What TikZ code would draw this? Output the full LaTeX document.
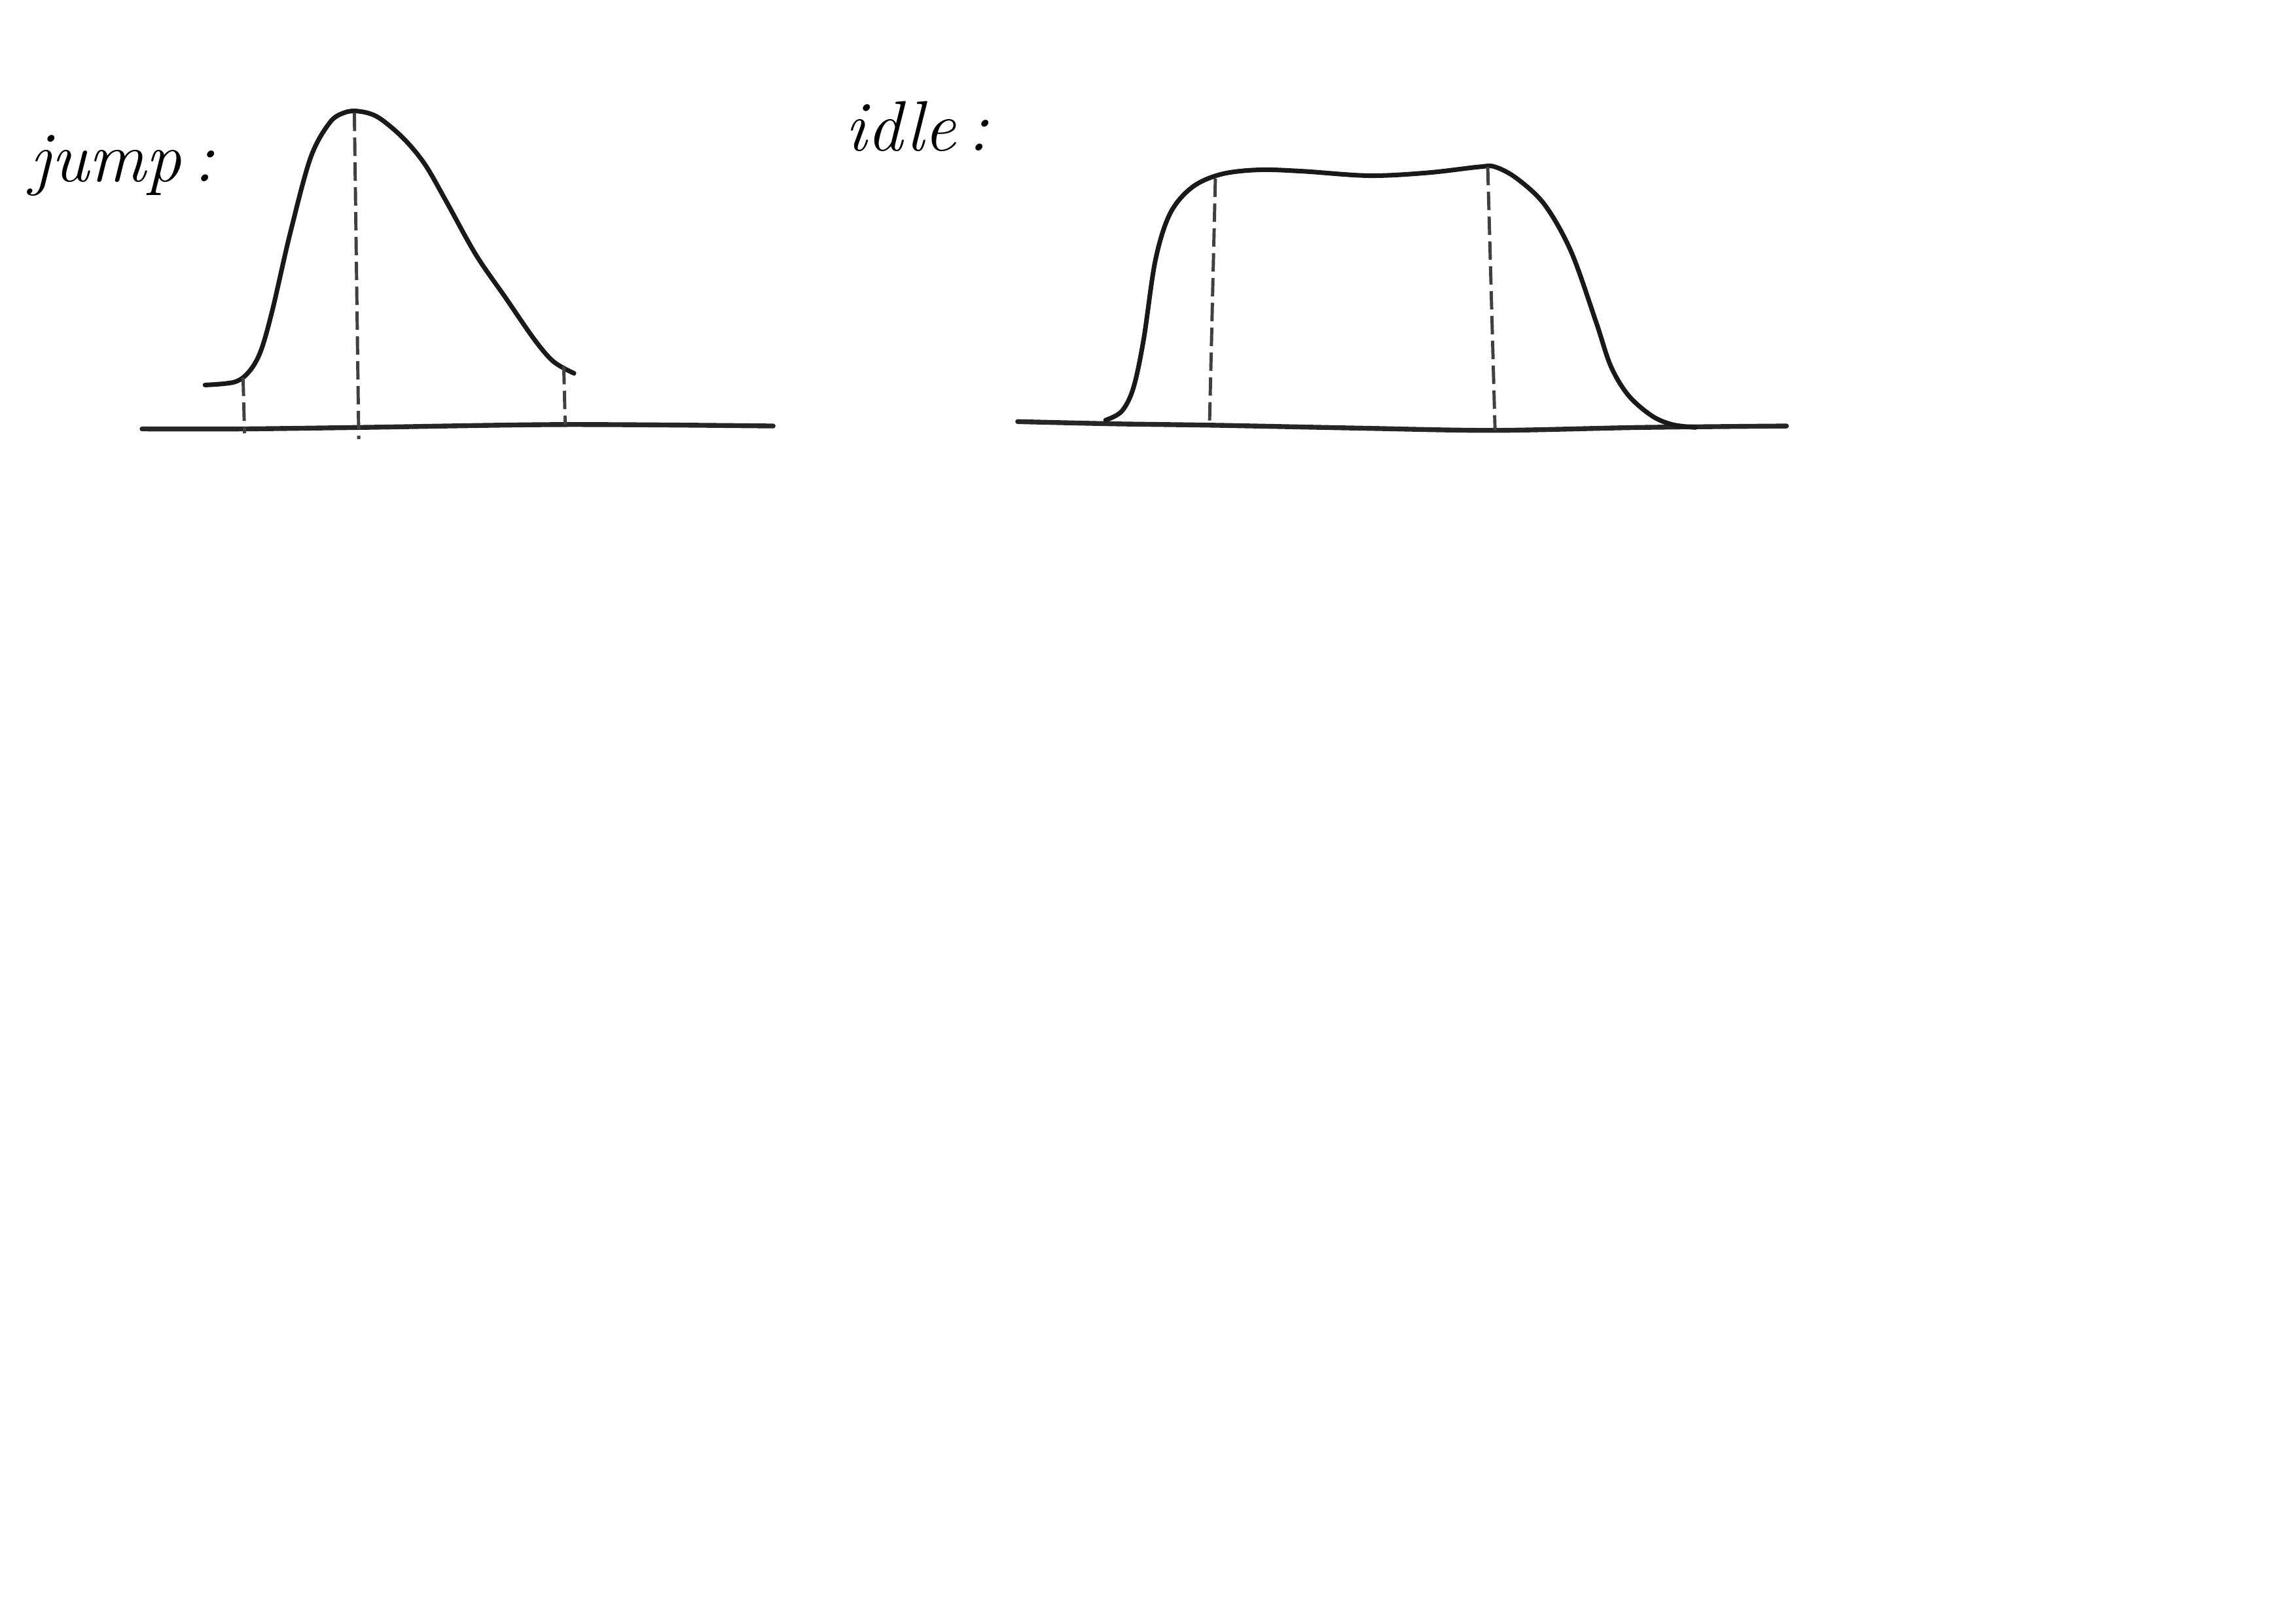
\documentclass[tikz,border=0pt]{standalone}
\begin{document}
\begin{tikzpicture}[x=0.02237cm,y=-0.02237cm,
  curve/.style={line width=2pt,line cap=round,line join=round,black!90},
  base/.style={line width=2.1pt,line cap=round,black!85},
  guide/.style={line width=1.4pt,black!75,dash pattern=on 8pt off 2.8pt},
  label/.style={font=\fontsize{31}{35}\selectfont\itshape,inner sep=0pt,anchor=base west}]
\useasboundingbox (0,0) rectangle (1568,1109);
\fill[white] (0,0) rectangle (1568,1109);

% ---------- jump ----------
\node[label] (jump) at (20,124) {jump\,:};
\draw[base] plot[smooth,tension=0.5] coordinates {(97,293) (165,293) (245,292) (385,290) (528,291)};
\draw[curve] plot[smooth,tension=0.55] coordinates {(140,263) (160,261) (170,254) (178,240) (186,212) (198,160) (212,108) (225,84) (235,77) (245,76) (258,80) (275,94) (290,112) (305,138) (325,174) (345,203) (365,232) (378,247) (392,255)};
\coordinate (j1t) at (166,258); \coordinate (j1b) at (167,296);
\coordinate (j2t) at (242,77);  \coordinate (j2b) at (245,300);
\coordinate (j3t) at (385,250); \coordinate (j3b) at (386,290);
\draw[guide] (j1t) -- (j1b);
\draw[guide] (j2t) -- (j2b);
\draw[guide] (j3t) -- (j3b);

% ---------- idle ----------
\node[label] (idle) at (577,103) {idle\,:};
\draw[base] plot[smooth,tension=0.5] coordinates {(695,288) (760,289.5) (830,290.5) (930,292.5) (1020,294) (1120,292) (1220,291)};
\draw[curve] plot[smooth,tension=0.55] coordinates {(755,287) (766,281) (774,265) (781,232) (789,178) (799,146) (814,128) (834,119) (860,116) (890,117) (935,120) (975,118) (1010,114) (1021,114) (1036,122) (1055,140) (1073,172) (1090,220) (1100,250) (1112,270) (1128,284) (1142,290) (1158,292)};
\coordinate (i1t) at (830,122); \coordinate (i1b) at (826,290);
\coordinate (i2t) at (1016,114); \coordinate (i2b) at (1021,294);
\draw[guide] (i1t) -- (i1b);
\draw[guide] (i2t) -- (i2b);
\end{tikzpicture}
\end{document}
